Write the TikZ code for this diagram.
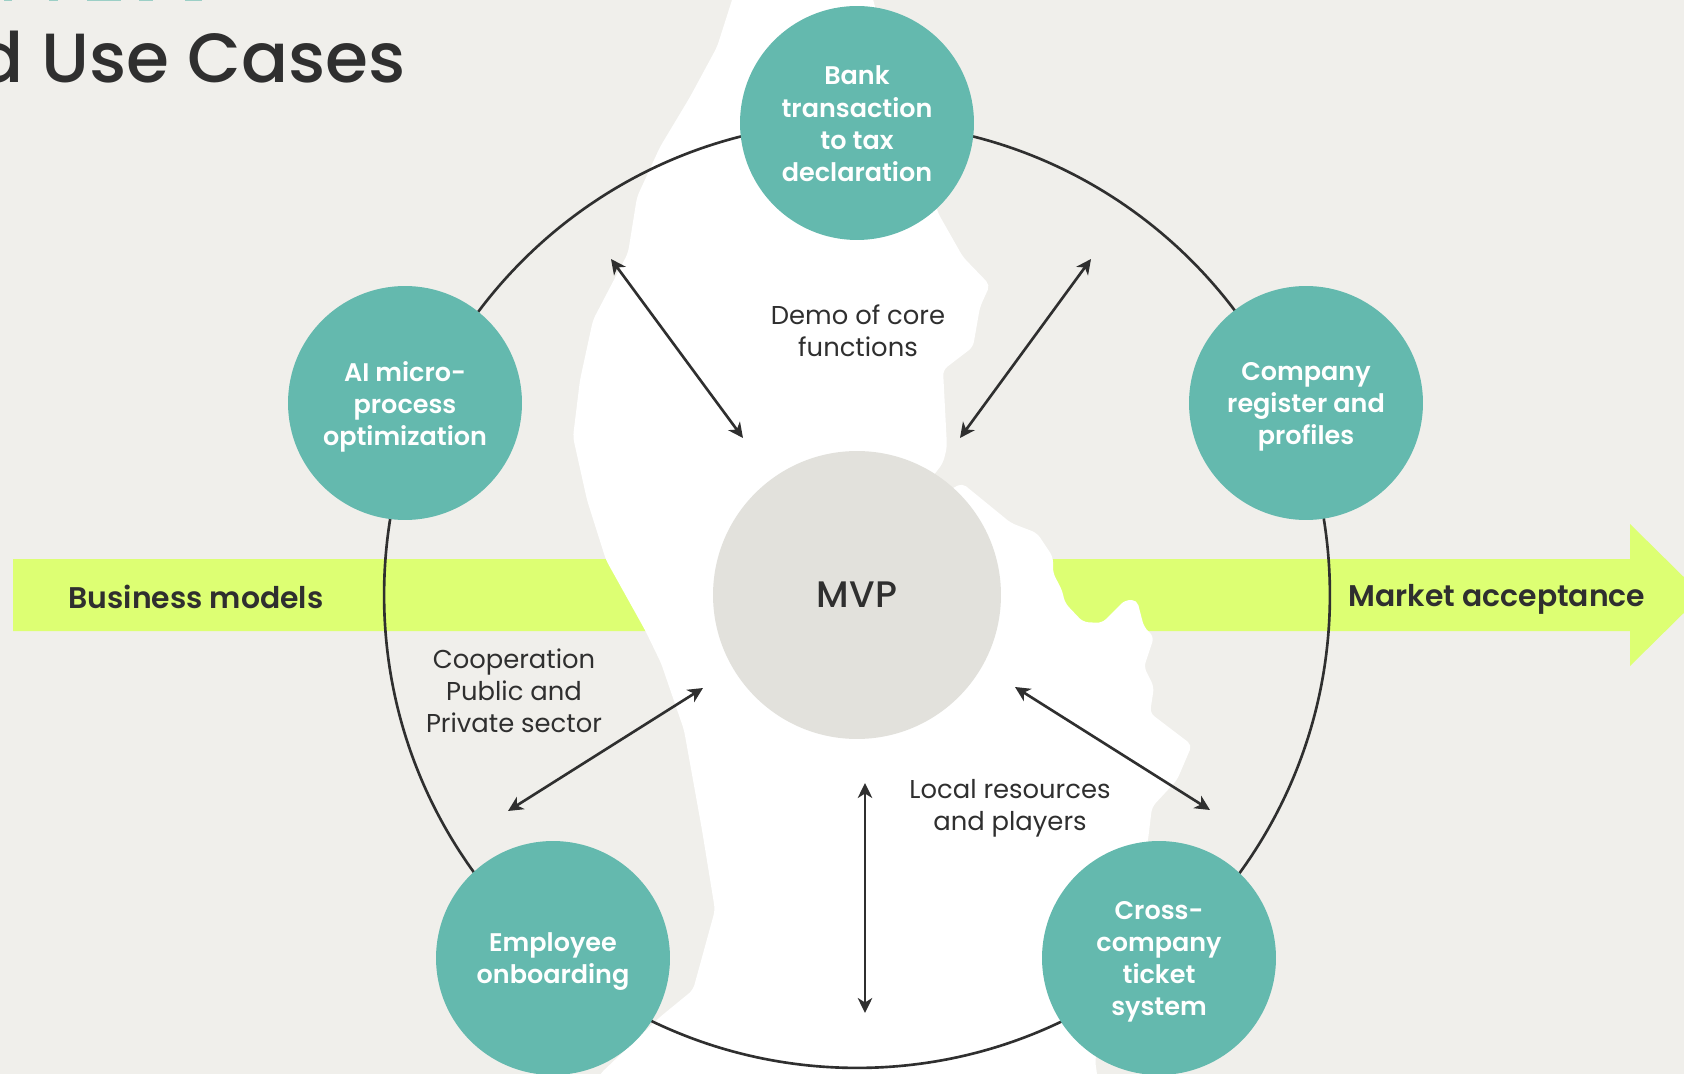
\documentclass[tikz,border=0pt]{standalone}
\usepackage{fontspec}
\setmainfont[BoldFont={Poppins SemiBold}]{Poppins}
\newfontfamily\midfont{Poppins Medium}
\usetikzlibrary{arrows.meta}
\definecolor{pagegrey}{HTML}{F0EFEB}
\definecolor{tealc}{HTML}{64B9AE}
\definecolor{mvpgrey}{HTML}{E2E1DC}
\definecolor{limec}{HTML}{DDFF73}
\definecolor{inkc}{HTML}{2F2F2F}
\tikzset{
  usecase/.style={circle, fill=tealc, minimum size=4.68cm, inner sep=0pt},
  casetext/.style={text=white, inner sep=0pt, align=center, yshift=-0.08cm, font=\fontsize{14.5}{18.25}\selectfont\bfseries},
  talk/.style={text=inkc, inner sep=0pt, align=center, font=\fontsize{14.7}{18.25}\selectfont},
  bandtext/.style={text=inkc, inner sep=0pt, font=\fontsize{17}{20}\selectfont\bfseries, execute at begin node=\strut},
  link/.style={draw=inkc, line width=1.5pt, {Stealth[length=3mm,width=2.9mm,inset=0.9mm]}-{Stealth[length=3mm,width=2.9mm,inset=0.9mm]}}
}
\begin{document}
\begin{tikzpicture}[x=0.02cm, y=-0.02cm]
\useasboundingbox (0,0) rectangle (1684,1074);
\fill[pagegrey] (0,0) rectangle (1684,1074);
% what is left of the line above the title
\foreach \xa/\xb in {4/12, 49/58, 87/121, 139/153, 185/202} {
  \fill[tealc!60!pagegrey] (\xa,0) rectangle (\xb,1.5);
}
\node[anchor=base east, text=inkc, inner sep=0pt, font=\fontsize{39.6}{48}\midfont] (title) at (406,83) {d Use Cases};
% band behind the map
\fill[limec] (13,559) -- (1630,559) -- (1630,524) -- (1702,595) -- (1630,666) -- (1630,631) -- (13,631) -- cycle;
% map
\fill[white, rounded corners=3pt] (738,-20) -- (732,0) -- (717,47) -- (690,97) -- (660,147) -- (637,197) -- (628,253) -- (593,320) -- (580,380) -- (573,437) -- (587,500) -- (606,560) -- (645,630) -- (661,663) -- (684,730) -- (702,830) -- (715,910) -- (693,990) -- (660,1017) -- (600,1074) -- (590,1100)
  -- (1100,1100) -- (1097,1074) -- (1095,1060) -- (1148,840) -- (1152,807) -- (1177,780) -- (1192,745) -- (1150,713) -- (1154,687) -- (1144,667) -- (1154,637) -- (1144,627) -- (1137,600) -- (1125,600) -- (1102,623) -- (1083,622) -- (1065,603) -- (1062,590) -- (1053,573) -- (1053,557) -- (1037,533) -- (1011,523) -- (962,483) -- (950,490) -- (930,480) -- (943,463) -- (947,447) -- (943,370) -- (973,347) -- (980,307) -- (990,285) -- (963,257) -- (938,213) -- (873,0) -- (870,-20) -- cycle;
\node[circle, draw=inkc, line width=1.5pt, minimum size=18.92cm, inner sep=0pt] (ring) at (857,595) {};
\node[circle, fill=mvpgrey, text=inkc, minimum size=5.76cm, inner sep=0pt, font=\fontsize{21}{25}\midfont] (mvp) at (857,595) {MVP};
\node[usecase, label={[casetext, yshift=0.065cm]center:Bank\\transaction\\to tax\\declaration}] (bank) at (857,123) {};
\node[usecase, label={[casetext]center:AI micro-\\process\\optimization}] (ai) at (405,403) {};
\node[usecase, label={[casetext]center:Company\\register and\\profiles}] (company) at (1306,403) {};
\node[usecase, label={[casetext]center:Employee\\onboarding}] (employee) at (553,958) {};
\node[usecase, label={[casetext]center:Cross-\\company\\ticket\\system}] (cross) at (1159,958) {};
\node[talk] (demo) at (858,331) {Demo of core\\functions};
\node[talk] (coop) at (514,691) {Cooperation\\Public and\\Private sector};
\node[talk] (local) at (1010,808) {Local resources\\and players};
\node[bandtext] (business) at (196,601) {Business models};
\node[bandtext] (market) at (1497,599) {Market acceptance};
% arrow ends
\coordinate (a1) at (611,259);
\coordinate (a2) at (743,438);
\coordinate (b1) at (1091,259);
\coordinate (b2) at (960,438);
\coordinate (c1) at (703,688);
\coordinate (c2) at (508,811);
\coordinate (d1) at (1015,687);
\coordinate (d2) at (1210,810);
\coordinate (e1) at (865,783);
\coordinate (e2) at (865,1013);
\draw[link] (a1) -- (a2);
\draw[link] (b1) -- (b2);
\draw[link] (c1) -- (c2);
\draw[link] (d1) -- (d2);
\draw[link] (e1) -- (e2);
\end{tikzpicture}
\end{document}
